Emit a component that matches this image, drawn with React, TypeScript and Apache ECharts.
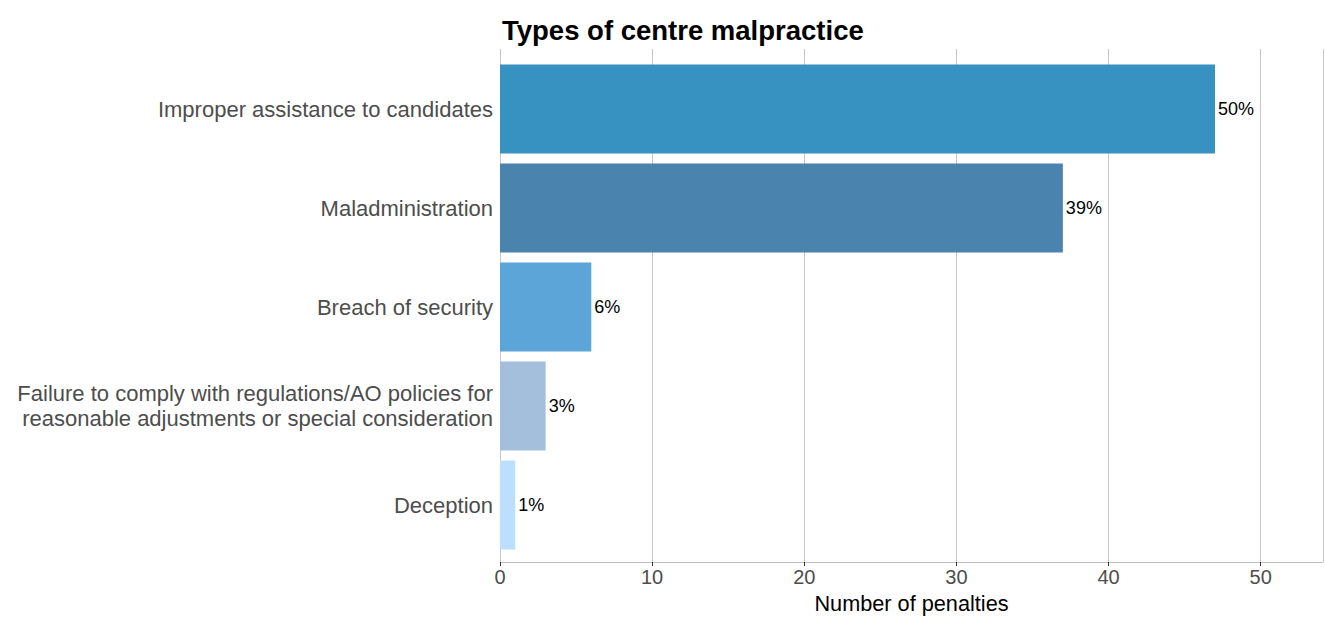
import React, { useEffect, useRef } from "react";
import * as echarts from "echarts";

const categories = [
  "Improper assistance to candidates",
  "Maladministration",
  "Breach of security",
  "Failure to comply with regulations/AO policies for\nreasonable adjustments or special consideration",
  "Deception",
];
const penalties = [47, 37, 6, 3, 1];
const barColors = ["#3791C1", "#4A83AD", "#5BA5D8", "#A3BFDC", "#BDDFFF"];
const xTicks = [0, 10, 20, 30, 40, 50];

export default function App() {
  const ref = useRef<HTMLDivElement>(null);
  useEffect(() => {
    if (!ref.current) return;
    const chart = echarts.init(ref.current, undefined, { renderer: "svg" });
    const total = penalties.reduce((a, b) => a + b, 0);
    const font = "Liberation Sans, Arial, sans-serif";
    const xMax = 54.1;
    chart.setOption({
      animation: false,
      backgroundColor: "#ffffff",
      title: {
        text: "Types of centre malpractice",
        left: 497,
        top: 11,
        textStyle: { fontFamily: font, fontSize: 27.5, fontWeight: "bold", color: "#000000" },
      },
      grid: [
        { left: 500, right: 2, top: 49, bottom: 54 },
        { left: 500, right: 2, top: 59.5, bottom: 64.5 },
      ],
      xAxis: [
        {
          type: "value",
          gridIndex: 0,
          min: 0,
          max: xMax,
          interval: 10,
          name: "Number of penalties",
          nameLocation: "middle",
          nameGap: 30,
          nameTextStyle: { fontFamily: font, fontSize: 21.7, color: "#000000" },
          axisLine: { show: true, lineStyle: { color: "#bdbdbd", width: 1 } },
          axisTick: { show: true, length: 4, lineStyle: { color: "#333333" } },
          axisLabel: {
            fontFamily: font,
            fontSize: 20,
            color: "#4d4d4d",
            margin: 5,
            showMaxLabel: false,
            formatter: (v: number) => (xTicks.includes(v) ? String(v) : ""),
          },
          splitLine: { show: true, lineStyle: { color: "#c6c6c6", width: 1 } },
        },
        {
          type: "value",
          gridIndex: 1,
          min: 0,
          max: xMax,
          show: false,
          splitLine: { show: false },
        },
      ],
      yAxis: [
        {
          type: "category",
          gridIndex: 0,
          data: categories,
          show: false,
        },
        {
          type: "category",
          gridIndex: 1,
          data: categories,
          inverse: true,
          axisLine: { show: false },
          axisTick: { show: false },
          axisLabel: {
            fontFamily: font,
            fontSize: 22,
            color: "#4d4d4d",
            margin: 7,
            align: "right",
            lineHeight: 25,
          },
          splitLine: { show: false },
        },
      ],
      series: [
        {
          type: "bar",
          xAxisIndex: 1,
          yAxisIndex: 1,
          barCategoryGap: "10%",
          data: penalties.map((v, i) => ({ value: v, itemStyle: { color: barColors[i] } })),
          label: {
            show: true,
            position: "right",
            distance: 3,
            fontFamily: font,
            fontSize: 18,
            color: "#000000",
            formatter: (p: any) => Math.round((p.value / total) * 100) + "%",
          },
        },
      ],
    });
    return () => chart.dispose();
  }, []);
  return (
    <div
      ref={ref}
      style={{ position: "fixed", left: 0, top: 0, width: 1325, height: 619 }}
    />
  );
}
